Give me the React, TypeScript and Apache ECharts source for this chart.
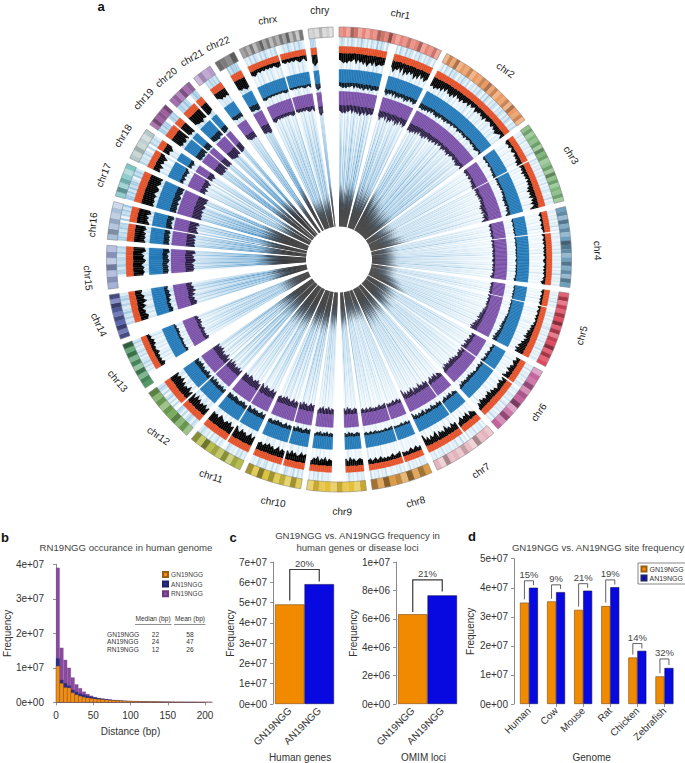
import React, { useEffect, useRef } from "react";
import * as echarts from "echarts";

// ---- Panel a: circular genome plot ----
const chromNames = ["chr1","chr2","chr3","chr4","chr5","chr6","chr7","chr8","chr9","chr10","chr11","chr12","chr13","chr14","chr15","chr16","chr17","chr18","chr19","chr20","chr21","chr22","chrx","chry"];
const chromLengths = [249,243,198,191,181,171,159,146,141,136,135,134,115,107,103,90,81,78,59,63,48,51,155,59];
const chromColors = ["#e8857a","#ea9a62","#7fb87c","#6f9fbe","#df4a60","#c5639e","#e4b4bd","#dc9b46","#e3c038","#dbc540","#b7bf4c","#79ad5e","#4f9a66","#5a66ae","#98a6d2","#a9bfdb","#7fc4c6","#b6c8c8","#a0609f","#a66eb0","#b79ccb","#7c7c7c","#a2a2a2","#cfcfcf"];
const labelTilt = [10,35,58,88,-75,-55,-35,-15,3,10,18,35,50,65,85,-85,-68,-58,-48,-40,-30,-22,-8,0];
const labelNudge = [[4,2],[2,4],[2,3],[5,5],[1,-2],[-1,-3],[2,-1],[7,-2],[6,-2],[7,-1],[8,2],[8,6],[4,4],[6,2],[3,10],[4,8],[3,3],[4,3],[3,-2],[2,2],[3,3],[4,5],[4,3],[1,4]];
const densityLevels = [
  "56767565474657586574765650000585647385746485736475",
  "7686757463657463546354352432534243524323424354324",
  "2322312321323243403232423231323243534352435346",
  "1211211212110211212112121211221121212112132",
  "12112121210211211212112132324343524354564756",
  "3243243524350425343243536453546352",
  "34526453643054635473546275463648",
  "3243243232304332432323243243243",
  "454354635000000045364536453",
  "6575465746056475465756465",
  "7586576856806586756785767",
  "6475647584706485647586757",
  "00000342323243232434232",
  "0000564536475645",
  "0000787868978698",
  "8787868709878698",
  "989889789978989",
  "5463546305464",
  "898997908989",
  "7889780887",
  "0004565656",
  "0007878980",
  "3432323232323430232323234324",
  "6876000000000000",
];
const rayShades = [
  "25304153042731405318263052731406317253042631425304",
  "1405317253042631502314263051731425304253152630425",
  "1302140213021502413021302130214021320215021",
  "1202130214021202102120314021202130215021202",
  "1202140212031302102130213021402150212031",
  "2140213120321402103213021402130215021",
  "2031204120312051004120312041203120",
  "2130212041203120120412031205",
  "213021402000000213041302",
  "31405213502130410431350213",
  "3152402135021304214031352",
  "3514630514630504163051463",
  "000003152631525314263",
  "0000526374263752",
  "0000637453746",
  "746375637064738",
  "8473847308473",
  "6342630526352",
  "7486705857",
  "6748506486",
  "0005374637",
  "0007486758",
  "3152631526314263014263152631",
  "66550000000000",
];
const ideogramBands = [
  "453763535476585354645735463",
  "36473546354657463546375463",
  "4635463756346374635463",
  "5637463587635746375",
  "473647584736584745",
  "2547365824735",
  "3547246354725",
  "5748365847",
  "6354635463",
  "4736475847",
  "5637465847",
  "3647563647",
  "5637263748",
  "7485746837",
  "4637263",
  "5746352",
  "4736425",
  "5363425",
  "475657",
  "564756",
  "3645",
  "6547",
  "5647368573647583627",
  "4536352",
];

// ---- Panel b ----
const binCentres = [2.5,7.5,12.5,17.5,22.5,27.5,32.5,37.5,42.5,47.5,52.5,57.5,62.5,67.5,72.5,77.5,82.5,87.5,92.5,97.5,102.5,107.5,112.5,117.5,122.5,127.5,132.5,137.5,142.5,147.5,152.5,157.5,162.5,167.5,172.5,177.5,182.5,187.5,192.5,197.5,202.5,207.5];
const rnFreq = [3.9e7,1.58e7,1.23e7,1.0e7,7.2e6,5.2e6,4.1e6,3.1e6,2.4e6,1.9e6,1.5e6,1.25e6,1.05e6,9e5,7.8e5,6.5e5,5.8e5,5e5,4.4e5,3.8e5,3.3e5,3e5,2.7e5,2.5e5,2.3e5,2.1e5,2e5,1.8e5,1.7e5,1.5e5,1.4e5,1.3e5,1.2e5,1.1e5,1e5,9e4,8e4,7e4,6e4,5e4,4e4,3e4];
const anFreq = [1.27e7,6.5e6,5.5e6,4.8e6,3.6e6,3.0e6,2.5e6,2.2e6,1.9e6,1.6e6,1.4e6,1.2e6,1.05e6,9e5,7.8e5,6.5e5,5.8e5,5e5,4.4e5,3.8e5,3.3e5,3e5,2.7e5,2.5e5,2.3e5,2.1e5,2e5,1.8e5,1.7e5,1.5e5,1.4e5,1.3e5,1.2e5,1.1e5,1e5,9e4,8e4,7e4,6e4,5e4,4e4,3e4];
const gnFreq = [1.05e7,5.5e6,4.3e6,4.2e6,2.8e6,2.2e6,1.8e6,1.5e6,1.3e6,1.15e6,1.0e6,9e5,8e5,7e5,6.2e5,5.5e5,5e5,4.4e5,4e5,3.6e5,3.2e5,3e5,2.7e5,2.5e5,2.3e5,2.1e5,2e5,1.8e5,1.7e5,1.5e5,1.4e5,1.3e5,1.2e5,1.1e5,1e5,9e4,8e4,7e4,6e4,5e4,4e4,3e4];
const tableRows = [["GN19NGG","22","58"],["AN19NGG","24","47"],["RN19NGG","12","26"]];

// ---- Panel c ----
const pamCategories = ["GN19NGG","AN19NGG"];
const humanGenes = [4.91e7,5.91e7];
const omimLoci = [6.32e6,7.65e6];
const humanBracket = [[5.1e7,6.63e7,6.04e7,"20%"]];
const omimBracket = [[6.48e6,8.74e6,7.93e6,"21%"]];

// ---- Panel d ----
const genomes = ["Human","Cow","Mouse","Rat","Chicken","Zebrafish"];
const gnSites = [3.49e7,3.53e7,3.24e7,3.37e7,1.6e7,0.95e7];
const anSites = [4.0e7,3.85e7,3.9e7,4.02e7,1.83e7,1.24e7];
const siteBrackets = [
  [3.6e7,4.24e7,4.09e7,"15%"],
  [3.62e7,4.1e7,3.96e7,"9%"],
  [3.35e7,4.14e7,4.0e7,"21%"],
  [3.49e7,4.27e7,4.11e7,"19%"],
  [1.7e7,2.08e7,1.91e7,"14%"],
  [1.06e7,1.55e7,1.34e7,"32%"],
];

const FONT = "Liberation Sans";
const GAP = 14;
const TOTAL = chromLengths.reduce((s, l) => s + l + GAP, 0);
const CENTER: [number, number] = [339, 259.5];
const R_INNER = 33, R_RAY = 223;

const hexToRgb = (h: string) => [parseInt(h.slice(1, 3), 16), parseInt(h.slice(3, 5), 16), parseInt(h.slice(5, 7), 16)];
const mix = (a: string, b: string, t: number) => {
  const x = hexToRgb(a), y = hexToRgb(b);
  return "rgb(" + x.map((v, i) => Math.round(v + (y[i] - v) * Math.min(1, t))).join(",") + ")";
};

const rayMarks: number[][] = [];
const trackMarks: number[][] = [];
const ideoMarks: number[][] = [];
const chromSpans: number[][] = [];
const labelMarks: number[][] = [];
{
  let at = 0;
  chromLengths.forEach((len, c) => {
    const dens = densityLevels[c], sh = rayShades[c], ide = ideogramBands[c];
    const w = len / dens.length;
    for (let i = 0; i < dens.length; i++) {
      const d = +dens[i];
      if (d === 0) continue;
      const s = +sh[Math.min(sh.length - 1, Math.floor((i * sh.length) / dens.length))];
      const a0 = at + i * w, a1 = a0 + w, mid = a0 + w / 2;
      rayMarks.push([R_RAY, a0, a1, d, s]);
      const prev = i > 0 ? +dens[i - 1] : 0;
      const next = i < dens.length - 1 ? +dens[i + 1] : 0;
      if (prev === 0) trackMarks.push([R_RAY, a0, mid, d, d]);
      if (next === 0) trackMarks.push([R_RAY, mid, a1, d, d]);
      else trackMarks.push([R_RAY, mid, mid + w, d, next]);
    }
    const iw = len / ide.length;
    for (let i = 0; i < ide.length; i++) ideoMarks.push([232.5, at + i * iw, at + (i + 1) * iw, +ide[i], c]);
    chromSpans.push([232.5, at, at + len]);
    labelMarks.push([254, at + len / 2, c]);
    at += len + GAP;
  });
}

const sci = (v: number) => {
  if (v === 0) return "0e+00";
  const [m, e] = v.toExponential(0).split("e+");
  return m + "e+" + e.padStart(2, "0");
};

const gradCache = new Map<string, any>();
const rayFill = (api: any, d: number, s: number) => {
  const key = d + "_" + s;
  if (gradCache.has(key)) return gradCache.get(key);
  const c = api.coord([0, 0]);
  const e = api.coord([R_RAY, 0]);
  const R = Math.hypot(e[0] - c[0], e[1] - c[1]);
  const t = s / 8;
  const deep = mix("#d8eaf6", "#3a86bd", t);
  const mid = mix("#e9f4fa", "#7db2d8", t);
  const pale = mix("#f8fcfe", "#bcdaed", t);
  const heat = mix("#eef6fb", "#9cc6e1", t);
  const stops = [
    { offset: 0, color: "#000000" },
    { offset: (34 + d * 2.5) / R_RAY, color: "#000000" },
    { offset: (42 + d * 3) / R_RAY, color: "#0d1d2c" },
    { offset: (54 + d * 3.5) / R_RAY, color: deep },
    { offset: 115 / R_RAY, color: mid },
    { offset: 150 / R_RAY, color: pale },
    { offset: 212 / R_RAY, color: pale },
    { offset: 213 / R_RAY, color: heat },
    { offset: 1, color: heat },
  ];
  const g = new echarts.graphic.RadialGradient(c[0], c[1], R, stops, true);
  gradCache.set(key, g);
  return g;
};

const bandInner = (top: number, base: number, slope: number, d: number) => top - (base + d * slope);

const trackShape = (api: any) => {
  const a0 = api.value(1), a1 = api.value(2), d0 = api.value(3), d1 = api.value(4);
  const bands = [
    { top: 213, base: 5, slope: 0.25, deep0: 0.5, deep: 1.35, fill: "#e4512a", dark: "#000000" },
    { top: 190, base: 11, slope: 0.3, deep0: 0.5, deep: 0.7, fill: "#2479b8", dark: "#0a1a2a" },
    { top: 168, base: 11, slope: 0.4, deep0: 1, deep: 1.0, fill: "#7b50a8", dark: "#2a1c44" },
  ];
  const children: any[] = [];
  bands.forEach((b) => {
    const r10 = bandInner(b.top, b.base, b.slope, d0), r11 = bandInner(b.top, b.base, b.slope, d1);
    const r20 = r10 - (b.deep0 + d0 * b.deep), r21 = r11 - (b.deep0 + d1 * b.deep);
    children.push({
      type: "polygon",
      shape: { points: [api.coord([r10, a0]), api.coord([r11, a1]), api.coord([r21, a1]), api.coord([r20, a0])] },
      style: { fill: b.dark, stroke: b.dark, lineWidth: 0.15 },
    });
    children.push({
      type: "polygon",
      shape: { points: [api.coord([b.top, a0]), api.coord([b.top, a1]), api.coord([r11, a1]), api.coord([r10, a0])] },
      style: { fill: b.fill, stroke: b.fill, lineWidth: 0.35 },
    });
  });
  return { type: "group", children };
};

const bracketSeries = (rows: any[], grid: number, lineWidth: number, name: string) => ({
  type: "custom",
  name,
  xAxisIndex: grid,
  yAxisIndex: grid,
  clip: false,
  silent: true,
  z: 5,
  data: rows.map((r, i) => [i, r[1]]),
  renderItem: (params: any, api: any) => {
    const r = rows[params.dataIndex];
    const i = params.dataIndex;
    const top = api.coord([i, r[1]]);
    const spansCategories = rows.length === 1;
    const xL = spansCategories ? api.coord([0, r[1]])[0] : top[0] - api.size([1, 0])[0] / 6;
    const xR = spansCategories ? api.coord([1, r[1]])[0] : top[0] + api.size([1, 0])[0] / 6;
    const yL = api.coord([i, r[0]])[1], yR = api.coord([i, r[2]])[1];
    return {
      type: "group",
      children: [
        { type: "polyline", shape: { points: [[xL, yL], [xL, top[1]], [xR, top[1]], [xR, yR]] }, style: { stroke: "#3a3a3a", lineWidth, fill: "none" } },
        { type: "text", x: (xL + xR) / 2, y: top[1] - 1.5, style: { text: r[3], font: '9.5px "' + FONT + '"', fill: "#444", align: "center", verticalAlign: "bottom" } },
      ],
    };
  },
});

const yAxisBase = (max: number, interval: number, offset: number, grid: number, namePos: number) => ({
  type: "value",
  gridIndex: grid,
  min: 0,
  max,
  interval,
  offset,
  name: "Frequency",
  nameLocation: "middle",
  nameGap: namePos,
  nameTextStyle: { fontFamily: FONT, fontSize: 10, color: "#333" },
  splitLine: { show: false },
  axisLine: { show: true, lineStyle: { color: "#8a8a8a", width: 1 } },
  axisTick: { show: true, length: 3, lineStyle: { color: "#777", width: 0.8 } },
  axisLabel: { fontFamily: FONT, fontSize: 10, color: "#333", margin: 6, formatter: sci },
});

const catAxis = (data: string[], grid: number, name: string, gap: number, ticks: boolean, shift: number) => ({
  type: "category",
  gridIndex: grid,
  data,
  name,
  nameLocation: "middle",
  nameGap: gap,
  nameTextStyle: { fontFamily: FONT, fontSize: 10, color: "#333", padding: [0, shift, 0, 0] },
  axisLine: { show: false },
  axisTick: { show: ticks, alignWithLabel: true, length: 3, lineStyle: { color: "#777", width: 0.8 } },
  axisLabel: { fontFamily: FONT, fontSize: 10, color: "#333", rotate: 45, margin: 5, interval: 0 },
});

const barStyle = (color: string, border: string) => ({ color, borderColor: border, borderWidth: 0.6 });

const tableText = (text: string, x: number, y: number, align = "center") => ({
  type: "text",
  silent: true,
  x,
  y,
  style: { text, font: '6.6px "' + FONT + '"', fill: "#333", align, verticalAlign: "middle" },
});
const panelLetter = (text: string, x: number, y: number) => ({
  type: "text",
  silent: true,
  x,
  y,
  style: { text, font: 'bold 13px "' + FONT + '"', fill: "#111", align: "center", verticalAlign: "middle" },
});

const titleStyle = { fontFamily: FONT, fontSize: 9.6, fontWeight: "normal", color: "#444", lineHeight: 11.5 };

const buildOption = (): any => ({
  animation: false,
  backgroundColor: "#ffffff",
  title: [
    { text: "RN19NGG occurance in human genome", padding: 0, left: 126, top: 547, textAlign: "center", textVerticalAlign: "middle", textStyle: titleStyle },
    { text: "GN19NGG vs. AN19NGG frequency in\nhuman genes or disease loci", padding: 0, left: 357.5, top: 541.5, textAlign: "center", textVerticalAlign: "middle", textStyle: titleStyle },
    { text: "GN19NGG vs. AN19NGG site frequency", padding: 0, left: 598, top: 547, textAlign: "center", textVerticalAlign: "middle", textStyle: titleStyle },
  ],
  legend: [
    {
      orient: "vertical", left: 162, top: 571, padding: 0, itemWidth: 5, itemHeight: 5, itemGap: 2.6, icon: "rect", selectedMode: false,
      textStyle: { fontFamily: FONT, fontSize: 6.6, color: "#444", padding: [0, 0, 0, -2] },
      data: [
        { name: "GN19NGG", itemStyle: { color: "#f28f12" } },
        { name: "AN19NGG", itemStyle: { color: "#2b2f85" } },
        { name: "RN19NGG", itemStyle: { color: "#8a4b9f" } },
      ],
    },
    {
      orient: "vertical", left: 638, top: 563, padding: 2.5, itemWidth: 5, itemHeight: 5, itemGap: 2, icon: "rect", selectedMode: false,
      borderColor: "#555", borderWidth: 0.7,
      textStyle: { fontFamily: FONT, fontSize: 7, color: "#333", padding: [0, 0, 0, -2] },
      data: [
        { name: "GN19NGG", itemStyle: { color: "#f28f12" } },
        { name: "AN19NGG", itemStyle: { color: "#0808c8" } },
      ],
    },
  ],
  polar: { center: CENTER, radius: [0, 240] },
  angleAxis: { type: "value", min: 0, max: TOTAL, startAngle: 90, clockwise: true, show: false },
  radiusAxis: { type: "value", min: 0, max: 240, show: false },
  grid: [
    { left: 56, top: 564.3, width: 149, height: 138 },
    { left: 275, top: 562, width: 59, height: 145 },
    { left: 398, top: 562, width: 59, height: 145 },
    { left: 515.4, top: 558.7, width: 162.6, height: 147.6 },
  ],
  xAxis: [
    {
      type: "value", gridIndex: 0, min: 0, max: 200, interval: 50, offset: 4,
      name: "Distance (bp)", nameLocation: "middle", nameGap: 20,
      nameTextStyle: { fontFamily: FONT, fontSize: 10, color: "#333" },
      splitLine: { show: false },
      axisLine: { show: true, lineStyle: { color: "#8a8a8a", width: 1 } },
      axisTick: { show: true, length: 3, lineStyle: { color: "#777", width: 0.8 } },
      axisLabel: { fontFamily: FONT, fontSize: 10, color: "#333", margin: 4 },
    },
    catAxis(pamCategories, 1, "Human genes", 48, false, 9),
    catAxis(pamCategories, 2, "OMIM loci", 48, false, 8),
    catAxis(genomes, 3, "Genome", 48, true, 10),
  ],
  yAxis: [
    yAxisBase(4e7, 1e7, 6, 0, 38),
    yAxisBase(7e7, 1e7, 2, 1, 36),
    yAxisBase(1e7, 2e6, 2, 2, 38),
    yAxisBase(5e7, 1e7, 1.4, 3, 39),
  ],
  graphic: [
    panelLetter("a", 101, 6),
    panelLetter("b", 5, 537),
    panelLetter("c", 233, 537),
    panelLetter("d", 472, 536),
    tableText("Median (bp)", 153, 618),
    tableText("Mean (bp)", 190, 618),
    { type: "line", silent: true, shape: { x1: 135, y1: 624.5, x2: 171.5, y2: 624.5 }, style: { stroke: "#444", lineWidth: 0.6 } },
    { type: "line", silent: true, shape: { x1: 174, y1: 624.5, x2: 205.5, y2: 624.5 }, style: { stroke: "#444", lineWidth: 0.6 } },
    ...tableRows.flatMap((row, i) => [
      tableText(row[0], 107, 634 + i * 7.6, "left"),
      tableText(row[1], 155.5, 634 + i * 7.6),
      tableText(row[2], 190, 634 + i * 7.6),
    ]),
  ],
  series: [
    {
      type: "custom", coordinateSystem: "polar", silent: true, clip: false, data: rayMarks,
      renderItem: (_: any, api: any) => {
        const a0 = api.value(1), a1 = api.value(2);
        return {
          type: "polygon",
          shape: { points: [api.coord([R_RAY, a0]), api.coord([R_RAY, a1]), api.coord([R_INNER, a1]), api.coord([R_INNER, a0])] },
          style: { fill: rayFill(api, api.value(3), api.value(4)) },
        };
      },
    },
    { type: "custom", coordinateSystem: "polar", silent: true, clip: false, data: trackMarks, renderItem: (_: any, api: any) => trackShape(api) },
    {
      type: "custom", coordinateSystem: "polar", silent: true, clip: false, data: ideoMarks,
      renderItem: (_: any, api: any) => {
        const base = chromColors[api.value(4)];
        const lv = api.value(3);
        const a0 = api.value(1), a1 = api.value(2);
        const fill = lv <= 5 ? mix(base, "#ffffff", (5 - lv) * 0.14) : mix(base, "#000000", (lv - 5) * 0.13);
        return {
          type: "polygon",
          shape: { points: [api.coord([232.5, a0]), api.coord([232.5, a1]), api.coord([222.5, a1]), api.coord([222.5, a0])] },
          style: { fill, stroke: fill, lineWidth: 0.3 },
        };
      },
    },
    {
      type: "custom", coordinateSystem: "polar", silent: true, clip: false, data: chromSpans,
      renderItem: (_: any, api: any) => {
        const a0 = api.value(1), a1 = api.value(2);
        const n = Math.max(4, Math.ceil((a1 - a0) / 6));
        const outer: number[][] = [], inner: number[][] = [];
        for (let i = 0; i <= n; i++) {
          const a = a0 + ((a1 - a0) * i) / n;
          outer.push(api.coord([232.5, a]));
          inner.unshift(api.coord([222.5, a]));
        }
        return { type: "polygon", shape: { points: outer.concat(inner) }, style: { fill: "none", stroke: "#7d7d7d", lineWidth: 0.5 } };
      },
    },
    {
      type: "custom", coordinateSystem: "polar", silent: false, clip: false, data: labelMarks,
      renderItem: (_: any, api: any) => {
        const c = api.value(2);
        const p = api.coord([api.value(0), api.value(1)]);
        return {
          type: "text", x: p[0] + labelNudge[c][0], y: p[1] + labelNudge[c][1], rotation: (-labelTilt[c] * Math.PI) / 180,
          style: { text: chromNames[c], font: '10px "' + FONT + '"', fill: "#222", align: "center", verticalAlign: "middle" },
        };
      },
    },
    { type: "bar", name: "RN19NGG", xAxisIndex: 0, yAxisIndex: 0, barWidth: 3.73, barGap: "-100%", clip: false, data: binCentres.map((x, i) => [x, rnFreq[i]]), itemStyle: { color: "#8a4b9f", borderColor: "#6d3a80", borderWidth: 0.2 } },
    { type: "bar", name: "AN19NGG", xAxisIndex: 0, yAxisIndex: 0, barWidth: 3.73, barGap: "-100%", clip: false, data: binCentres.map((x, i) => [x, anFreq[i]]), itemStyle: { color: "#2b2f85", borderColor: "#20236a", borderWidth: 0.2 } },
    { type: "bar", name: "GN19NGG", xAxisIndex: 0, yAxisIndex: 0, barWidth: 3.73, barGap: "-100%", clip: false, data: binCentres.map((x, i) => [x, gnFreq[i]]), itemStyle: { color: "#f28f12", borderColor: "#9a5f10", borderWidth: 0.25 } },
    { type: "bar", xAxisIndex: 1, yAxisIndex: 1, barWidth: "100%", data: [{ value: humanGenes[0], itemStyle: barStyle("#f28a00", "#7a4a10") }, { value: humanGenes[1], itemStyle: barStyle("#0808e0", "#10105a") }] },
    bracketSeries(humanBracket, 1, 1.2, "humanBracket"),
    { type: "bar", xAxisIndex: 2, yAxisIndex: 2, barWidth: "100%", data: [{ value: omimLoci[0], itemStyle: barStyle("#f28a00", "#7a4a10") }, { value: omimLoci[1], itemStyle: barStyle("#0808e0", "#10105a") }] },
    bracketSeries(omimBracket, 2, 1.2, "omimBracket"),
    { type: "bar", name: "GN19NGG", xAxisIndex: 3, yAxisIndex: 3, barWidth: 9, barGap: "0%", data: gnSites, itemStyle: barStyle("#f28a00", "#7a4a10") },
    { type: "bar", name: "AN19NGG", xAxisIndex: 3, yAxisIndex: 3, barWidth: 9, barGap: "0%", data: anSites, itemStyle: barStyle("#0808e0", "#10105a") },
    bracketSeries(siteBrackets, 3, 0.8, "siteBrackets"),
  ],
});

export default function App() {
  const ref = useRef<HTMLDivElement>(null);
  useEffect(() => {
    const chart = echarts.init(ref.current!, undefined, { renderer: "svg" });
    chart.setOption(buildOption());
    return () => chart.dispose();
  }, []);
  return <div ref={ref} style={{ position: "absolute", left: 0, top: 0, width: 685, height: 763 }} />;
}
